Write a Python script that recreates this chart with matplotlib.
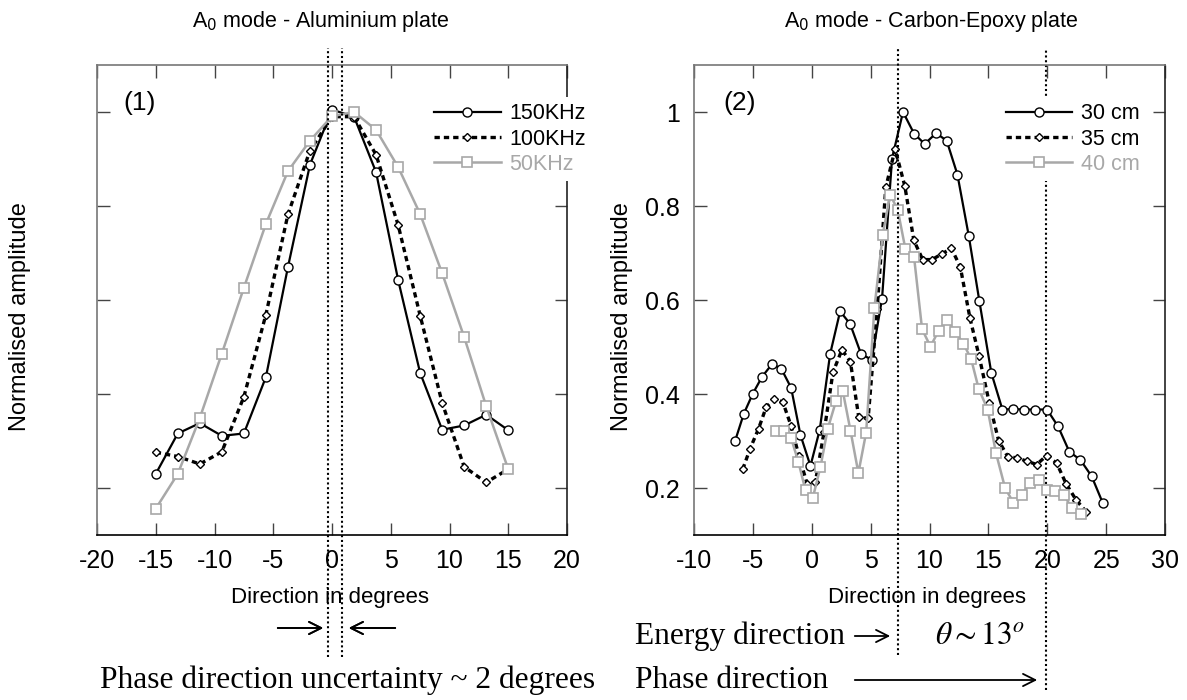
import matplotlib
matplotlib.use("Agg")
import matplotlib.pyplot as plt
from matplotlib import font_manager

# A0 mode, aluminium plate (direction in degrees -> normalised amplitude)
al_angle = [-15, -13.125, -11.25, -9.375, -7.5, -5.625, -3.75, -1.875, 0,
            1.875, 3.75, 5.625, 7.5, 9.375, 11.25, 13.125, 15]
al_150 = [0.23, 0.316, 0.338, 0.311, 0.316, 0.436, 0.670, 0.888, 1.005,
          0.99, 0.872, 0.643, 0.445, 0.324, 0.333, 0.356, 0.323]
al_100 = [0.276, 0.267, 0.251, 0.277, 0.394, 0.569, 0.782, 0.918, 0.99,
          0.99, 0.909, 0.760, 0.567, 0.381, 0.245, 0.212, 0.24]
al_50 = [0.156, 0.230, 0.349, 0.486, 0.626, 0.762, 0.874, 0.939, 0.991,
         1.0, 0.962, 0.883, 0.783, 0.657, 0.521, 0.374, 0.240]
al_labels = ["150KHz", "100KHz", "50KHz"]

# A0 mode, carbon-epoxy plate
ce30_x = [-6.5, -5.77, -5.0, -4.21, -3.36, -2.57, -1.75, -0.96, -0.11, 0.68,
          1.56, 2.41, 3.26, 4.19, 5.09, 5.97, 6.82, 7.75, 8.69, 9.59,
          10.56, 11.46, 12.37, 13.33, 14.24, 15.25, 16.19, 17.12, 18.06, 18.99,
          19.98, 20.92, 21.88, 22.81, 23.77, 24.7]
ce30_y = [0.301, 0.358, 0.401, 0.437, 0.464, 0.453, 0.413, 0.313, 0.247, 0.324,
          0.485, 0.576, 0.549, 0.485, 0.473, 0.603, 0.901, 1.0, 0.954, 0.932,
          0.955, 0.939, 0.867, 0.737, 0.597, 0.445, 0.367, 0.368, 0.367, 0.367,
          0.367, 0.331, 0.277, 0.260, 0.225, 0.169]
ce35_x = [-5.86, -5.23, -4.52, -3.87, -3.17, -2.46, -1.75, -1.10, -0.39, 0.31,
          1.05, 1.80, 2.56, 3.28, 3.99, 4.79, 5.55, 6.29, 7.08, 7.9,
          8.67, 9.42, 10.22, 11.04, 11.86, 12.62, 13.44, 14.21, 15.08, 15.87,
          16.64, 17.43, 18.28, 19.1, 19.95, 20.8, 21.6, 22.44, 23.29]
ce35_y = [0.240, 0.284, 0.326, 0.372, 0.390, 0.383, 0.332, 0.269, 0.209, 0.213,
          0.32, 0.446, 0.494, 0.469, 0.351, 0.348, 0.58, 0.840, 0.921, 0.843,
          0.727, 0.686, 0.686, 0.698, 0.710, 0.670, 0.561, 0.481, 0.381, 0.301,
          0.267, 0.264, 0.257, 0.250, 0.269, 0.253, 0.209, 0.175, 0.150]
ce40_x = [-3.02, -2.37, -1.75, -1.13, -0.53, 0.09, 0.74, 1.36, 2.07, 2.63,
          3.29, 3.96, 4.62, 5.32, 6.03, 6.66, 7.3, 7.95, 8.69, 9.37,
          10.08, 10.78, 11.49, 12.2, 12.88, 13.53, 14.18, 14.94, 15.65, 16.42,
          17.12, 17.83, 18.54, 19.27, 19.98, 20.69, 21.39, 22.1, 22.87]
ce40_y = [0.322, 0.322, 0.306, 0.255, 0.195, 0.179, 0.245, 0.326, 0.386, 0.407,
          0.322, 0.232, 0.318, 0.583, 0.739, 0.824, 0.792, 0.709, 0.691, 0.538,
          0.501, 0.535, 0.558, 0.532, 0.507, 0.475, 0.411, 0.367, 0.274, 0.200,
          0.169, 0.186, 0.211, 0.216, 0.195, 0.193, 0.186, 0.157, 0.145]
ce_labels = ["30 cm", "35 cm", "40 cm"]

al_xticks = [-20, -15, -10, -5, 0, 5, 10, 15, 20]
ce_xticks = [-10, -5, 0, 5, 10, 15, 20, 25, 30]
yticks = [0.2, 0.4, 0.6, 0.8, 1.0]
ytick_labels = ["0.2", "0.4", "0.6", "0.8", "1"]

# phase uncertainty lines (left), energy / phase directions (right)
al_marks = [-0.3, 0.85]
energy_dir = 7.3
phase_dir = 19.9

plt.rcParams["font.family"] = ["Liberation Sans", "DejaVu Sans"]
plt.rcParams["axes.unicode_minus"] = False

names = {f.name for f in font_manager.fontManager.ttflist}
narrow = "Liberation Sans Narrow" if "Liberation Sans Narrow" in names else "Liberation Sans"

W, H = 1187, 700
fig = plt.figure(figsize=(W / 100, H / 100), dpi=100)


def fx(px):
    return px / W


def fy(py):
    return 1 - py / H


GRAY = "#a8a8a8"
black_style = dict(color="black", lw=1.6, marker="o", ms=6.5, mfc="white",
                   mec="black", mew=1.0)
dash_style = dict(color="black", lw=2.4, ls=(0, (1.6, 1.2)), marker="D", ms=4.3,
                  mfc="white", mec="black", mew=1.0)
gray_style = dict(color=GRAY, lw=1.8, marker="s", ms=6.5, mfc="white",
                  mec=GRAY, mew=1.2)


def style_axes(ax, xticks):
    ax.set_ylim(0.1, 1.1)
    ax.set_xticks(xticks)
    ax.set_xticklabels([str(t) for t in xticks])
    ax.set_yticks(yticks)
    ax.set_yticklabels(ytick_labels)
    ax.tick_params(direction="in", length=9, width=1, colors="#444444",
                   labelcolor="black", labelsize=18, top=True, right=True,
                   pad=10)
    ax.spines["bottom"].set_color("black")
    ax.spines["right"].set_color("#222222")
    ax.spines["left"].set_color("#777777")
    ax.spines["top"].set_color("#777777")
    for s in ax.spines.values():
        s.set_linewidth(1.2)


def make_legend(ax, anchor):
    leg = ax.legend(loc="upper left", bbox_to_anchor=anchor, fontsize=15.5,
                    frameon=True, facecolor="white", edgecolor="none",
                    framealpha=1, handlelength=3.1, handletextpad=0.4,
                    labelspacing=0.2, borderpad=0.3)
    leg.get_texts()[2].set_color(GRAY)
    leg.set_zorder(5)
    return leg


# left panel: aluminium
ax1 = fig.add_axes([fx(97), fy(535), fx(567) - fx(97), fy(65) - fy(535)])
ax1.plot(al_angle, al_150, label=al_labels[0], **black_style)
ax1.plot(al_angle, al_100, label=al_labels[1], **dash_style)
ax1.plot(al_angle, al_50, label=al_labels[2], **gray_style)
ax1.set_xlim(-20, 20)
style_axes(ax1, al_xticks)
ax1.tick_params(labelleft=False)
for xm in al_marks:
    ax1.axvline(xm, ymin=-0.26, ymax=1.036, color="black", lw=1.5,
                ls=(0, (1, 1.3)), clip_on=False, zorder=3)
make_legend(ax1, (0.68, 0.955))

# right panel: carbon-epoxy
ax2 = fig.add_axes([fx(694), fy(535), fx(1165) - fx(694), fy(65) - fy(535)])
ax2.plot(ce30_x, ce30_y, label=ce_labels[0], **black_style)
ax2.plot(ce35_x, ce35_y, label=ce_labels[1], **dash_style)
ax2.plot(ce40_x, ce40_y, label=ce_labels[2], **gray_style)
ax2.set_xlim(-10, 30)
style_axes(ax2, ce_xticks)
ax2.axvline(energy_dir, ymin=-0.255, ymax=1.036, color="black", lw=1.5,
            ls=(0, (1, 1.3)), clip_on=False, zorder=3)
ax2.axvline(phase_dir, ymin=-0.33, ymax=1.036, color="black", lw=1.5,
            ls=(0, (1, 1.3)), clip_on=False, zorder=1)
make_legend(ax2, (0.625, 0.955))

# panel numbers
fig.text(fx(140), fy(103), "(1)", fontsize=19, ha="center", va="center")
fig.text(fx(740), fy(103), "(2)", fontsize=19, ha="center", va="center")

# titles
fig.text(fx(321), fy(22), "A$_0$ mode - Aluminium plate", fontsize=15.5,
         family=narrow, ha="center", va="center")
fig.text(fx(931), fy(22), "A$_0$ mode - Carbon-Epoxy plate", fontsize=15.5,
         family=narrow, ha="center", va="center")

# axis labels
for xc in (330, 927):
    fig.text(fx(xc), fy(598), "Direction in degrees", fontsize=16,
             ha="center", va="center")
for xc in (20, 622):
    fig.text(fx(xc), fy(317), "Normalised amplitude", fontsize=17,
             rotation=90, ha="center", va="center")

# annotations below the plots
serif = "Liberation Serif"
arrow = dict(arrowstyle="->", color="black", lw=1.3, mutation_scale=22)
fig.text(fx(100), fy(680), "Phase direction uncertainty ~ 2 degrees",
         family=serif, fontsize=22.7, ha="left", va="center")
fig.add_artist(plt.annotate("", xy=(fx(326), fy(628)), xytext=(fx(275), fy(628)),
                            xycoords="figure fraction", arrowprops=arrow))
fig.add_artist(plt.annotate("", xy=(fx(346), fy(628)), xytext=(fx(398), fy(628)),
                            xycoords="figure fraction", arrowprops=arrow))

fig.text(fx(635), fy(636), "Energy direction", family=serif, fontsize=22.7,
         ha="left", va="center")
ax2.annotate("", xy=(fx(893), fy(636)), xytext=(fx(852), fy(636)),
             xycoords="figure fraction", arrowprops=arrow)
fig.text(fx(935), fy(636), r"$\theta \sim 13^o$", fontsize=22.7,
         math_fontfamily="stix", ha="left", va="center")
fig.text(fx(635), fy(680), "Phase direction", family=serif, fontsize=22.7,
         ha="left", va="center")
ax2.annotate("", xy=(fx(1040), fy(680)), xytext=(fx(852), fy(680)),
             xycoords="figure fraction", arrowprops=arrow)

fig.savefig("out.png", dpi=100)
